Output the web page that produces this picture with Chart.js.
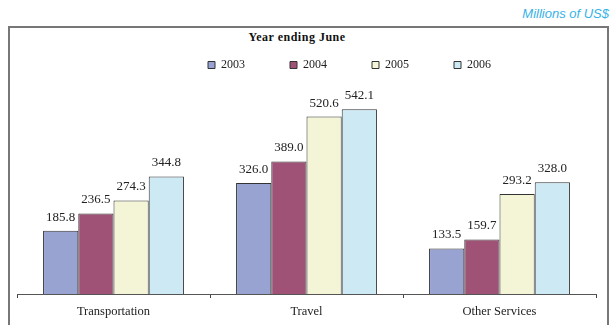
<!DOCTYPE html>
<html>
<head>
<meta charset="utf-8">
<script src="https://cdn.jsdelivr.net/npm/chart.js@4"></script>
<style>
  body { margin: 0; background: #fff; }
  #wrap { position: relative; width: 610px; height: 325px; overflow: hidden; }
  #frame { position: absolute; left: 8px; top: 26px; width: 597px; height: 320px; border: 2px solid #777; }
  #unit { position: absolute; right: 1px; top: 6px; font: italic 13px "Liberation Sans", Arial, sans-serif; color: #35b2e6; }
  #heading { position: absolute; left: 0; width: 594px; top: 30px; text-align: center; font: bold 12px "Liberation Serif", serif; color: #111; letter-spacing: 0.5px; }
  canvas { position: absolute; left: 0; top: 0; }
</style>
</head>
<body>
<div id="wrap">
  <div id="frame"></div>
  <div id="unit">Millions of US$</div>
  <div id="heading">Year ending June</div>
  <canvas id="chart" width="610" height="325"></canvas>
</div>
<script>
const categories = ['Transportation', 'Travel', 'Other Services'];
const years = ['2003', '2004', '2005', '2006'];
const values2003 = [185.8, 326.0, 133.5];
const values2004 = [236.5, 389.0, 159.7];
const values2005 = [274.3, 520.6, 293.2];
const values2006 = [344.8, 542.1, 328.0];
const colours = ['#99a3d2', '#9f5276', '#f4f4d6', '#cde9f4'];

const serif = '"Liberation Serif", "Times New Roman", serif';

// value labels above every bar
const valueLabels = {
    id: 'valueLabels',
    afterDatasetsDraw(chart) {
        const ctx = chart.ctx;
        ctx.save();
        ctx.font = '13px ' + serif;
        ctx.fillStyle = '#222';
        ctx.textAlign = 'center';
        ctx.textBaseline = 'bottom';
        chart.data.datasets.forEach((ds, i) => {
            chart.getDatasetMeta(i).data.forEach((bar, j) => {
                ctx.fillText(ds.data[j].toFixed(1), bar.x, bar.y - 7);
            });
        });
        ctx.restore();
    }
};

// the legend in the original sits right of centre
const legendShift = {
    id: 'legendShift',
    afterLayout(chart) {
        chart.legend.left += 43;
        chart.legend.right += 43;
    }
};

const series = [values2003, values2004, values2005, values2006];

new Chart(document.getElementById('chart'), {
    type: 'bar',
    data: {
        labels: categories,
        datasets: series.map((vals, i) => ({
            label: years[i],
            data: vals,
            backgroundColor: colours[i],
            borderColor: '#333',
            borderWidth: 1,
            categoryPercentage: 0.73,
            barPercentage: 1.0,
            clip: false
        }))
    },
    options: {
        responsive: false,
        animation: false,
        layout: { padding: { top: 14, left: 17, right: 14, bottom: 0 } },
        plugins: {
            legend: {
                position: 'top',
                labels: {
                    boxWidth: 7,
                    boxHeight: 7,
                    padding: 45,
                    color: '#222',
                    font: { family: serif, size: 12 }
                }
            },
            tooltip: { enabled: false }
        },
        scales: {
            x: {
                grid: { drawOnChartArea: false, drawTicks: true, tickLength: 4, color: '#444', offset: true },
                border: { color: '#555', width: 1 },
                ticks: { color: '#222', padding: 6, font: { family: serif, size: 12.5 } }
            },
            y: {
                display: false,
                min: 0,
                max: 625
            }
        }
    },
    plugins: [valueLabels, legendShift]
});
</script>
</body>
</html>
